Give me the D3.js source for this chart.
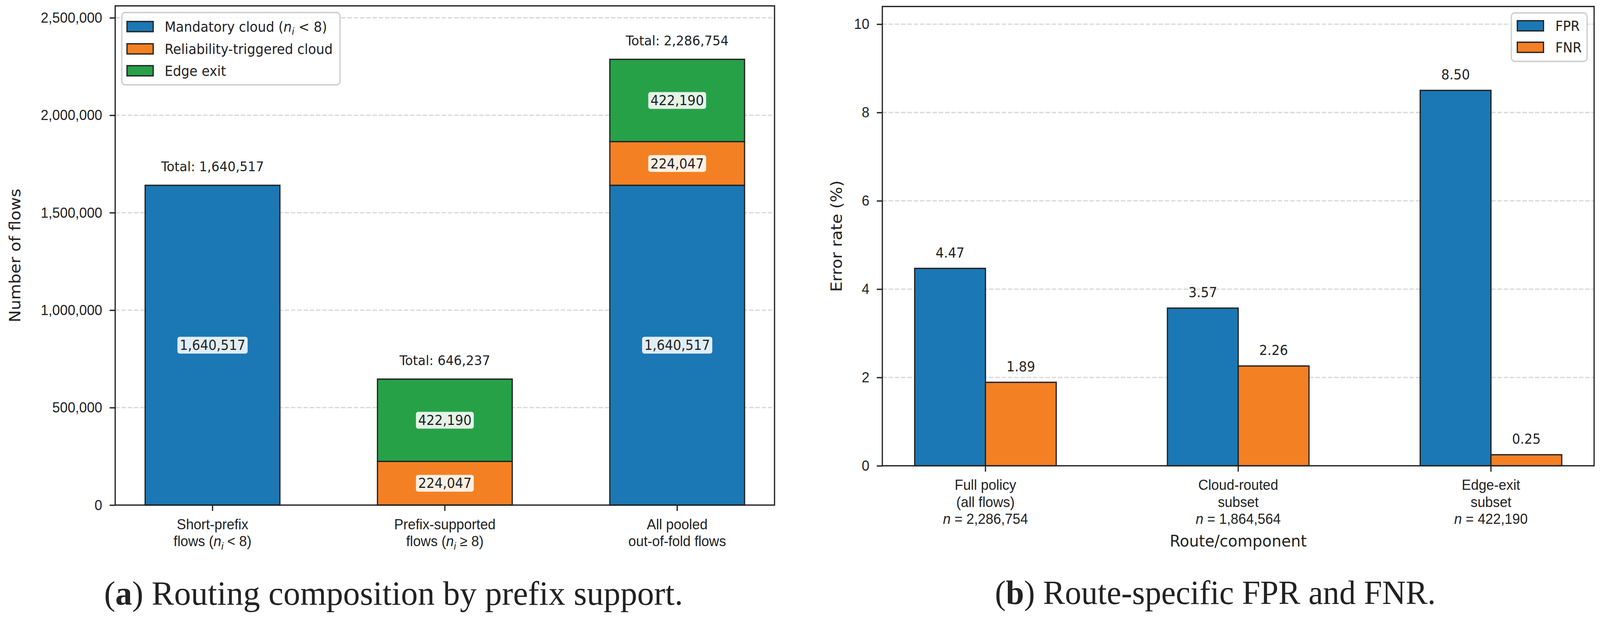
<!DOCTYPE html>
<html>
<head>
<meta charset="utf-8">
<script src="https://cdn.jsdelivr.net/npm/d3@7"></script>
<style>
  html, body { margin: 0; padding: 0; height: 100%; overflow: hidden; background: #fff; }
  svg { display: block; width: 100vw; height: 100vh; }
  text { white-space: pre; }
</style>
</head>
<body>
<svg id="chart"></svg>
<script>
// panel (a): routing composition
var groupsA = ["Short-prefix\nflows ($n_i < 8$)", "Prefix-supported\nflows ($n_i \u2265 8$)", "All pooled\nout-of-fold flows"];
var mandatoryCloud = [1640517, 0, 1640517];
var reliabilityCloud = [0, 224047, 224047];
var edgeExit = [0, 422190, 422190];
var seriesA = ["Mandatory cloud ($n_i < 8$)", "Reliability-triggered cloud", "Edge exit"];
var yTicksA = [0, 500000, 1000000, 1500000, 2000000, 2500000];

// panel (b): route-specific error rates
var groupsB = ["Full policy\n(all flows)\n$n$ = 2,286,754", "Cloud-routed\nsubset\n$n$ = 1,864,564", "Edge-exit\nsubset\n$n$ = 422,190"];
var fpr = [4.47, 3.57, 8.50];
var fnr = [1.89, 2.26, 0.25];
var seriesB = ["FPR", "FNR"];
var yTicksB = [0, 2, 4, 6, 8, 10];

var W = 4334, H = 1586;
var ink = "#222222";
var colors = ["#1b78b4", "#f48024", "#27a148"];
var tickFs = 37.5, labFs = 41.7, annFs = 35, legFs = 35.4;
var lw = 3.3;

// stretch the drawing over the whole window
var svg = d3.select("#chart")
    .attr("viewBox", "0 0 " + W + " " + H)
    .attr("preserveAspectRatio", "none")
    .style("font-family", "'DejaVu Sans', sans-serif");

// write a string with $...$ math parts (italic letters, _x subscripts)
function rich(parent, str, fs) {
    var parts = str.split(/(\$[^$]*\$)/).filter(function(s) { return s.length; });
    var pending = 0;
    function add(t) {
        var s = parent.append("tspan").text(t);
        if (pending) { s.attr("dy", pending); pending = 0; }
        return s;
    }
    parts.forEach(function(p) {
        if (p[0] !== "$") { add(p); return; }
        var m = p.slice(1, -1);
        for (var k = 0; k < m.length; k++) {
            var c = m[k];
            if (c === "_") {
                var s = m[++k];
                add(s).attr("font-style", "italic").attr("font-size", fs * 0.7).attr("dy", fs * 0.22);
                pending = -fs * 0.22;
            } else if (/[a-zA-Z]/.test(c)) {
                add(c).attr("font-style", "italic");
            } else {
                add(c);
            }
        }
    });
}

function styleAxis(g) {
    g.select(".domain").remove();
    g.selectAll(".tick line").attr("stroke", ink).attr("stroke-width", lw);
    g.selectAll(".tick text").attr("fill", ink).attr("font-size", tickFs);
}

function multiTicks(g, labels, fs) {
    g.selectAll(".tick text").each(function(d, i) {
        var t = d3.select(this).text("").attr("y", null).attr("dy", null)
            .attr("text-anchor", "middle");
        labels[i].split("\n").forEach(function(line, j) {
            var ln = t.append("tspan").attr("x", 0).attr("y", 62 + j * 43.5);
            rich(ln, line, fs);
        });
    });
}

function grid(g, y, ticks, x0, x1) {
    g.selectAll("line.grid").data(ticks.filter(function(d) { return d > 0; }))
        .enter().append("line").attr("class", "grid")
        .attr("x1", x0).attr("x2", x1)
        .attr("y1", function(d) { return y(d); }).attr("y2", function(d) { return y(d); })
        .attr("stroke", "#d9d9d9").attr("stroke-width", lw).attr("stroke-dasharray", "12,5");
}

function labelBox(g, x, y, txt) {
    var t = g.append("text").attr("x", x).attr("y", y)
        .attr("text-anchor", "middle").attr("dominant-baseline", "central")
        .attr("font-size", annFs).attr("fill", ink).text(txt);
    var bb = t.node().getBBox();
    g.insert("rect", function() { return t.node(); })
        .attr("x", bb.x - 6).attr("y", y - 21.5)
        .attr("width", bb.width + 12).attr("height", 43)
        .attr("rx", 6).attr("fill", "#fff").attr("fill-opacity", 0.87);
}

function legend(g, names, box, px, tx, rows) {
    g.append("rect").attr("x", box[0]).attr("y", box[1])
        .attr("width", box[2] - box[0]).attr("height", box[3] - box[1])
        .attr("rx", 9).attr("fill", "#fff").attr("fill-opacity", 0.8)
        .attr("stroke", "#cccccc").attr("stroke-width", lw);
    names.forEach(function(n, i) {
        g.append("rect").attr("x", px).attr("y", rows[i] - 13)
            .attr("width", 71).attr("height", 26)
            .attr("fill", colors[i]).attr("stroke", ink).attr("stroke-width", lw);
        var t = g.append("text").attr("x", tx).attr("y", rows[i]).attr("dy", "0.36em")
            .attr("font-size", legFs).attr("fill", ink);
        rich(t, n, legFs);
    });
}

// ---------- panel (a) ----------
var a = { left: 312, right: 2098, top: 15, bottom: 1292 };
var gA = svg.append("g");

var xA = d3.scaleBand().domain(d3.range(groupsA.length))
    .range([a.left, a.right]).paddingInner(0.42).paddingOuter(0.129);
var yA = d3.scaleLinear().domain([0, 2561164]).range([a.bottom, a.top]);

grid(gA, yA, yTicksA, a.left, a.right);

var rowsA = groupsA.map(function(g, i) {
    return { i: i, m: mandatoryCloud[i], r: reliabilityCloud[i], e: edgeExit[i] };
});
var stackA = d3.stack().keys(["m", "r", "e"])(rowsA);

stackA.forEach(function(layer, li) {
    gA.selectAll(null).data(layer.filter(function(d) { return d[1] > d[0]; }))
        .enter().append("rect")
        .attr("x", function(d) { return xA(d.data.i); })
        .attr("width", xA.bandwidth())
        .attr("y", function(d) { return yA(d[1]); })
        .attr("height", function(d) { return yA(d[0]) - yA(d[1]); })
        .attr("fill", colors[li]).attr("stroke", ink).attr("stroke-width", lw);
});

stackA.forEach(function(layer) {
    layer.filter(function(d) { return d[1] > d[0]; }).forEach(function(d) {
        labelBox(gA, xA(d.data.i) + xA.bandwidth() / 2, yA((d[0] + d[1]) / 2),
            d3.format(",")(d[1] - d[0]));
    });
});

rowsA.forEach(function(d) {
    var tot = d.m + d.r + d.e;
    gA.append("text").attr("x", xA(d.i) + xA.bandwidth() / 2).attr("y", yA(tot) - 36)
        .attr("text-anchor", "middle").attr("font-size", 34.5).attr("fill", ink)
        .text("Total: " + d3.format(",")(tot));
});

gA.append("rect").attr("x", a.left).attr("y", a.top)
    .attr("width", a.right - a.left).attr("height", a.bottom - a.top)
    .attr("fill", "none").attr("stroke", ink).attr("stroke-width", lw);

gA.append("g").attr("transform", "translate(" + a.left + ",0)")
    .call(d3.axisLeft(yA).tickValues(yTicksA).tickFormat(d3.format(",")).tickSize(15).tickPadding(20))
    .call(styleAxis);

gA.append("g").attr("transform", "translate(0," + a.bottom + ")")
    .call(d3.axisBottom(xA).tickSize(15))
    .call(styleAxis)
    .call(multiTicks, groupsA, tickFs);

gA.append("text").attr("transform", "translate(55," + (a.top + a.bottom) / 2 + ") rotate(-90)")
    .attr("text-anchor", "middle").attr("font-size", labFs).attr("fill", ink)
    .text("Number of flows");

legend(gA, seriesA, [330, 32, 921, 217], 344, 446, [68, 125, 181]);

// ---------- panel (b) ----------
var b = { left: 2390, right: 4318, top: 16.6, bottom: 1191.5 };
var gB = svg.append("g");

var xB = d3.scaleBand().domain(d3.range(groupsB.length))
    .range([b.left, b.right]).paddingInner(0.44).paddingOuter(0.128);
var xSub = d3.scaleBand().domain(seriesB).range([0, xB.bandwidth()]);
var yB = d3.scaleLinear().domain([0, 10.4]).range([b.bottom, b.top]);

grid(gB, yB, yTicksB, b.left, b.right);

var valuesB = [fpr, fnr];
seriesB.forEach(function(s, si) {
    var vals = valuesB[si];
    gB.selectAll(null).data(vals).enter().append("rect")
        .attr("x", function(d, i) { return xB(i) + xSub(s); })
        .attr("width", xSub.bandwidth())
        .attr("y", function(d) { return yB(d); })
        .attr("height", function(d) { return yB(0) - yB(d); })
        .attr("fill", colors[si]).attr("stroke", ink).attr("stroke-width", lw);
    gB.selectAll(null).data(vals).enter().append("text")
        .attr("x", function(d, i) { return xB(i) + xSub(s) + xSub.bandwidth() / 2; })
        .attr("y", function(d) { return yB(d) - 28; })
        .attr("text-anchor", "middle").attr("font-size", annFs).attr("fill", ink)
        .text(function(d) { return d.toFixed(2); });
});

gB.append("rect").attr("x", b.left).attr("y", b.top)
    .attr("width", b.right - b.left).attr("height", b.bottom - b.top)
    .attr("fill", "none").attr("stroke", ink).attr("stroke-width", lw);

gB.append("g").attr("transform", "translate(" + b.left + ",0)")
    .call(d3.axisLeft(yB).tickValues(yTicksB).tickFormat(d3.format("d")).tickSize(15).tickPadding(20))
    .call(styleAxis);

gB.append("g").attr("transform", "translate(0," + b.bottom + ")")
    .call(d3.axisBottom(xB).tickSize(15))
    .call(styleAxis)
    .call(multiTicks, groupsB, tickFs);

gB.append("text").attr("transform", "translate(2280," + (b.top + b.bottom) / 2 + ") rotate(-90)")
    .attr("text-anchor", "middle").attr("font-size", labFs).attr("fill", ink)
    .text("Error rate (%)");

gB.append("text").attr("x", (b.left + b.right) / 2).attr("y", 1398)
    .attr("text-anchor", "middle").attr("font-size", labFs).attr("fill", ink)
    .text("Route/component");

legend(gB, seriesB, [4094, 33, 4299, 157], 4110, 4213, [66, 121]);

// ---------- captions ----------
function caption(x0, x1, y, letter, rest) {
    var t = svg.append("text").attr("x", x0).attr("y", y)
        .attr("font-family", "'Liberation Serif', serif").attr("font-size", 86).attr("fill", ink)
        .attr("textLength", x1 - x0).attr("lengthAdjust", "spacingAndGlyphs");
    t.append("tspan").text("(");
    t.append("tspan").attr("font-weight", "bold").text(letter);
    t.append("tspan").text(") " + rest);
}
caption(282, 1850, 1547, "a", "Routing composition by prefix support.");
caption(2695, 3889, 1545, "b", "Route-specific FPR and FNR.");
</script>
</body>
</html>
